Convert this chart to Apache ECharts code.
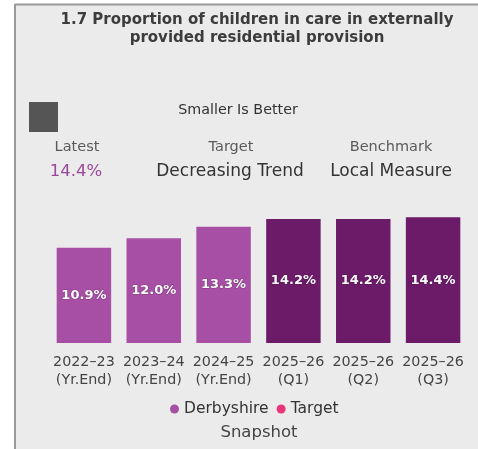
<!DOCTYPE html>
<html>
<head>
<meta charset="utf-8">
<script src="https://cdn.jsdelivr.net/npm/echarts@6/dist/echarts.min.js"></script>
<style>
  html, body { margin: 0; padding: 0; background: #ffffff; overflow: hidden; }
  #chart { width: 478px; height: 449px; }
</style>
</head>
<body>
<div id="chart"></div>
<script>
// Periods shown along the x axis (two-line labels)
const periods = ['2022\u201323\n(Yr.End)', '2023\u201324\n(Yr.End)', '2024\u201325\n(Yr.End)',
                 '2025\u201326\n(Q1)', '2025\u201326\n(Q2)', '2025\u201326\n(Q3)'];
// Derbyshire proportion (%) for each period
const derbyshire = [10.9, 12.0, 13.3, 14.2, 14.2, 14.4];
// Year-end periods are drawn lighter than the in-year quarters
const isYearEnd = [true, true, true, false, false, false];

const FONT = 'DejaVu Sans';
const LIGHT = '#a64fa5';
const DARK = '#6c1b68';

function txt(x, y, text, size, fill, extra) {
  return { type: 'text', x: x, y: y,
    style: Object.assign({ text: text, fontFamily: FONT, fontSize: size, fill: fill,
      align: 'center', verticalAlign: 'middle' }, extra || {}) };
}

const chart = echarts.init(document.getElementById('chart'), null, { renderer: 'canvas' });

chart.setOption({
  backgroundColor: '#ffffff',
  animation: false,
  title: {
    text: '1.7 Proportion of children in care in externally\nprovided residential provision',
    left: 252, top: 6, textAlign: 'center',
    textStyle: { fontFamily: FONT, fontSize: 15, fontWeight: 'bold', color: '#3c3c3c', lineHeight: 18 }
  },
  graphic: [
    // card background with a border on its left and top edges
    { type: 'rect', z: -10, silent: true,
      shape: { x: 15, y: 5, width: 463, height: 444 },
      style: { fill: '#ebebeb' } },
    { type: 'line', z: -9, silent: true,
      shape: { x1: 15, y1: 4.5, x2: 478, y2: 4.5 }, style: { stroke: '#9a9a9a', lineWidth: 2 } },
    { type: 'line', z: -9, silent: true,
      shape: { x1: 15, y1: 4, x2: 15, y2: 449 }, style: { stroke: '#9a9a9a', lineWidth: 2 } },
    { type: 'rect', shape: { x: 29, y: 102, width: 29, height: 30 }, style: { fill: '#555555' } },
    txt(238, 110, 'Smaller Is Better', 14.3, '#333333'),
    txt(77, 147, 'Latest', 14.5, '#5a5a5a'),
    txt(76, 172, '14.4%', 16.5, '#9b4799'),
    txt(231, 147, 'Target', 14.5, '#5a5a5a'),
    txt(230, 172, 'Decreasing Trend', 17, '#333333'),
    txt(391, 147, 'Benchmark', 14.5, '#5a5a5a'),
    txt(391, 172, 'Local Measure', 17, '#333333'),
    txt(259, 433, 'Snapshot', 16.5, '#444444')
  ],
  legend: {
    top: 396, left: 165,
    icon: 'circle', itemWidth: 9, itemHeight: 9, itemGap: 8,
    textStyle: { fontFamily: FONT, fontSize: 15.5, color: '#333333' },
    data: ['Derbyshire', 'Target']
  },
  grid: { left: 49, right: 10, top: 203.3, bottom: 106 },
  xAxis: {
    type: 'category',
    data: periods,
    axisLine: { show: false }, axisTick: { show: false },
    axisLabel: { interval: 0, margin: 10, fontFamily: FONT, fontSize: 14.3, color: '#444444', lineHeight: 18 }
  },
  yAxis: {
    type: 'value', min: 0, max: 16,
    show: false,
    splitLine: { show: false }
  },
  series: [
    {
      name: 'Derbyshire', type: 'bar', barCategoryGap: '22%',
      itemStyle: { color: LIGHT },
      data: derbyshire.map((v, i) => ({ value: v, itemStyle: { color: isYearEnd[i] ? LIGHT : DARK } })),
      label: {
        show: true, position: 'inside',
        formatter: p => p.value.toFixed(1) + '%',
        fontFamily: FONT, fontSize: 13, fontWeight: 'bold', color: '#ffffff',
        textBorderColor: 'rgba(60,0,60,0.3)', textBorderWidth: 1
      }
    },
    { name: 'Target', type: 'line', data: [], itemStyle: { color: '#e8357a' } }
  ]
});
</script>
</body>
</html>
